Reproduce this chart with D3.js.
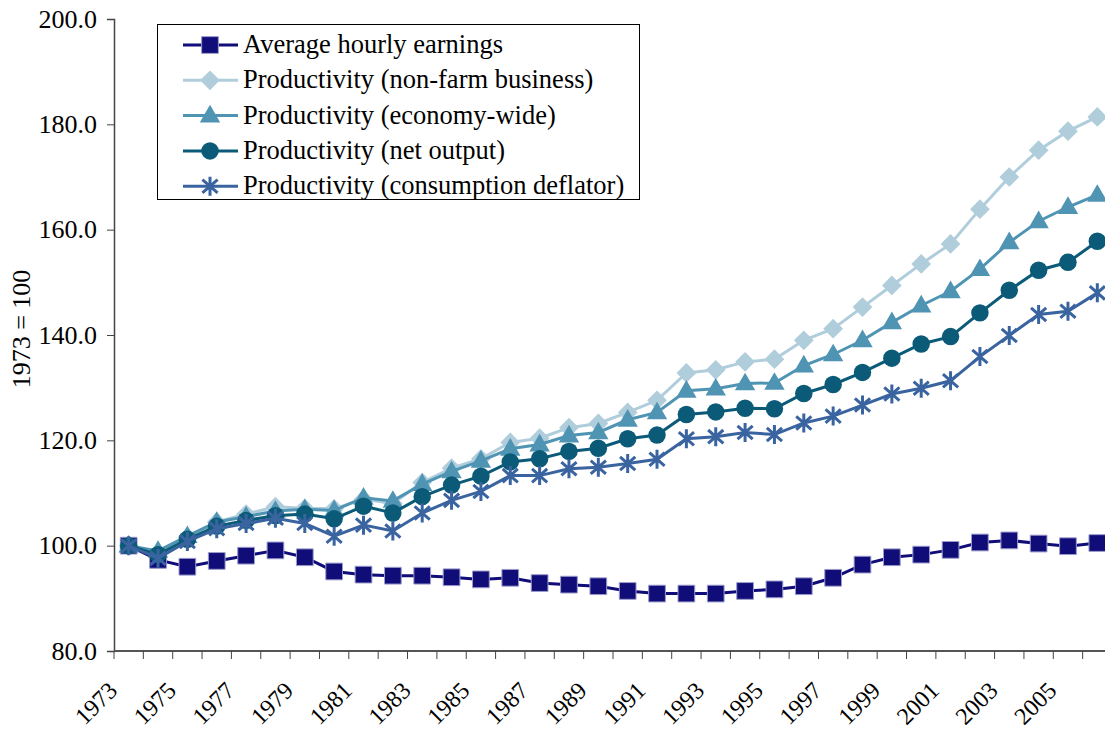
<!DOCTYPE html>
<html>
<head>
<meta charset="utf-8">
<title>Earnings and productivity, 1973 = 100</title>
<style>
  body { margin: 0; background: #fff; }
  text { font-family: "Liberation Serif", "Times New Roman", serif; fill: #000; }
  .tick-label { font-size: 26px; }
  .year-label { font-size: 24px; }
  .legend text { font-size: 26.5px; }
</style>
</head>
<body>
<svg width="1105" height="734"></svg>
<script src="https://d3js.org/d3.v7.min.js"></script>
<script>
// years on the category axis
var years = d3.range(1973, 2007);
var yTicks = [80, 100, 120, 140, 160, 180, 200];

// series values
var earnings = [100.0, 97.3, 96.0, 97.1, 98.1, 99.1, 97.8, 95.1, 94.5, 94.3,
  94.3, 94.0, 93.6, 93.9, 92.9, 92.6, 92.3, 91.4, 90.9, 90.9,
  90.9, 91.4, 91.7, 92.3, 93.9, 96.4, 97.8, 98.3, 99.2, 100.6,
  101.0, 100.4, 99.9, 100.5];
var nonFarm = [100.0, 98.6, 101.6, 104.5, 106.0, 107.4, 107.1, 107.0, 108.8, 108.0,
  112.0, 114.7, 116.5, 119.6, 120.4, 122.4, 123.2, 125.3, 127.6, 132.8,
  133.4, 134.9, 135.4, 139.0, 141.2, 145.3, 149.4, 153.5, 157.3, 163.9,
  170.0, 175.1, 178.7, 181.4];
var economyWide = [100.0, 99.0, 101.8, 104.5, 105.5, 106.6, 106.9, 106.7, 109.1, 108.5,
  111.7, 114.1, 116.1, 118.4, 119.2, 120.9, 121.5, 123.9, 125.3, 129.4,
  129.8, 130.8, 130.9, 134.2, 136.3, 139.0, 142.4, 145.6, 148.3, 152.5,
  157.6, 161.6, 164.3, 166.6];
var netOutput = [100.0, 98.3, 101.2, 103.7, 104.8, 105.7, 106.0, 105.1, 107.5, 106.2,
  109.3, 111.5, 113.2, 115.9, 116.5, 117.9, 118.5, 120.3, 121.0, 124.9,
  125.4, 126.1, 126.0, 128.9, 130.6, 132.9, 135.6, 138.3, 139.7, 144.2,
  148.5, 152.3, 153.8, 157.8];
var consumption = [100.0, 97.6, 100.8, 103.2, 104.2, 105.2, 104.2, 101.8, 103.9, 102.8,
  106.2, 108.6, 110.3, 113.3, 113.3, 114.6, 114.9, 115.6, 116.4, 120.3,
  120.7, 121.5, 121.1, 123.3, 124.6, 126.7, 128.8, 129.9, 131.3, 135.9,
  139.9, 143.9, 144.5, 148.0];

var seriesNames = ["Average hourly earnings", "Productivity (non-farm business)",
  "Productivity (economy-wide)", "Productivity (net output)",
  "Productivity (consumption deflator)"];
var seriesValues = [earnings, nonFarm, economyWide, netOutput, consumption];
var seriesColors = ["#100c78", "#b0cddc", "#5094b4", "#0a5a78", "#3a64a0"];
var seriesMarkers = ["square", "diamond", "triangle", "circle", "star"];

var svg = d3.select("svg");
var plotLeft = 114, plotRight = 1112, plotTop = 19, plotBottom = 651;

var x = d3.scaleBand().domain(years).range([plotLeft, plotRight]).padding(0);
var y = d3.scaleLinear().domain([80, 200]).range([plotBottom, plotTop]);
var cx = function (yr) { return x(yr) + x.bandwidth() / 2; };

// marker shapes
function marker(g, type, color) {
  if (type == "square") {
    g.append("path").attr("d", d3.symbol(d3.symbolSquare, 280)())
      .attr("fill", color).attr("stroke", "#9c9ccc").attr("stroke-width", 1);
  } else if (type == "diamond") {
    g.append("path").attr("d", d3.symbol(d3.symbolSquare, 195)())
      .attr("transform", "rotate(45)").attr("fill", color);
  } else if (type == "triangle") {
    g.append("path").attr("d", d3.symbol(d3.symbolTriangle, 180)())
      .attr("transform", "translate(0,1)").attr("fill", color);
  } else if (type == "circle") {
    g.append("path").attr("d", d3.symbol(d3.symbolCircle, 240)()).attr("fill", color);
  } else {
    var r = 9.5;
    g.append("path")
      .attr("d", "M0," + (-r) + "V" + r +
        "M" + (-r * 0.8) + "," + (-r * 0.7) + "L" + (r * 0.8) + "," + (r * 0.7) +
        "M" + (-r * 0.8) + "," + (r * 0.7) + "L" + (r * 0.8) + "," + (-r * 0.7))
      .attr("stroke", color).attr("stroke-width", 3).attr("fill", "none");
  }
}

// y axis
var yAxis = svg.append("g").attr("transform", "translate(" + plotLeft + ",0)")
  .call(d3.axisLeft(y).tickValues(yTicks).tickSize(7).tickPadding(10)
    .tickFormat(d3.format(".1f")));
yAxis.select(".domain").attr("stroke", "#444").attr("stroke-width", 1.5);
yAxis.selectAll(".tick line").attr("stroke", "#444");
yAxis.selectAll("text").attr("class", "tick-label").attr("font-family", null).attr("font-size", null);

// x axis: line, boundary ticks, labels every other year
svg.append("line").attr("x1", plotLeft).attr("x2", 1105).attr("y1", y(80)).attr("y2", y(80))
  .attr("stroke", "#555").attr("stroke-width", 2);
svg.append("g").selectAll("line").data(years).enter().append("line")
  .attr("x1", function (d) { return x(d); }).attr("x2", function (d) { return x(d); })
  .attr("y1", y(80)).attr("y2", y(80) + 8).attr("stroke", "#444");
svg.append("g").selectAll("text").data(years.filter(function (d) { return d % 2 == 1; }))
  .enter().append("text")
  .attr("class", "year-label")
  .attr("text-anchor", "end")
  .attr("transform", function (d) { return "translate(" + (cx(d) - 10) + "," + (y(80) + 41) + ") rotate(-45)"; })
  .text(function (d) { return d; });

// y title
svg.append("text").attr("class", "tick-label")
  .attr("transform", "translate(30," + ((plotTop + plotBottom) / 2 - 6) + ") rotate(-90)")
  .attr("text-anchor", "middle").text("1973 = 100");

// series
var line = d3.line().x(function (d, i) { return cx(years[i]); }).y(function (d) { return y(d); });
seriesValues.forEach(function (vals, s) {
  var g = svg.append("g");
  g.append("path").datum(vals).attr("d", line).attr("fill", "none")
    .attr("stroke", seriesColors[s]).attr("stroke-width", 3);
  vals.forEach(function (v, i) {
    var m = g.append("g").attr("transform", "translate(" + cx(years[i]) + "," + y(v) + ")");
    marker(m, seriesMarkers[s], seriesColors[s]);
  });
});

// legend
var legend = svg.append("g").attr("class", "legend");
legend.append("rect").attr("x", 157.5).attr("y", 24.5).attr("width", 482).attr("height", 175)
  .attr("fill", "#fff").attr("stroke", "#000").attr("stroke-width", 1);
seriesNames.forEach(function (name, s) {
  var ly = 45 + s * 35.3;
  legend.append("line").attr("x1", 183).attr("x2", 238).attr("y1", ly).attr("y2", ly)
    .attr("stroke", seriesColors[s]).attr("stroke-width", 3);
  marker(legend.append("g").attr("transform", "translate(210," + ly + ")"), seriesMarkers[s], seriesColors[s]);
  legend.append("text").attr("x", 243).attr("y", ly + 8).text(name);
});
</script>
</body>
</html>
